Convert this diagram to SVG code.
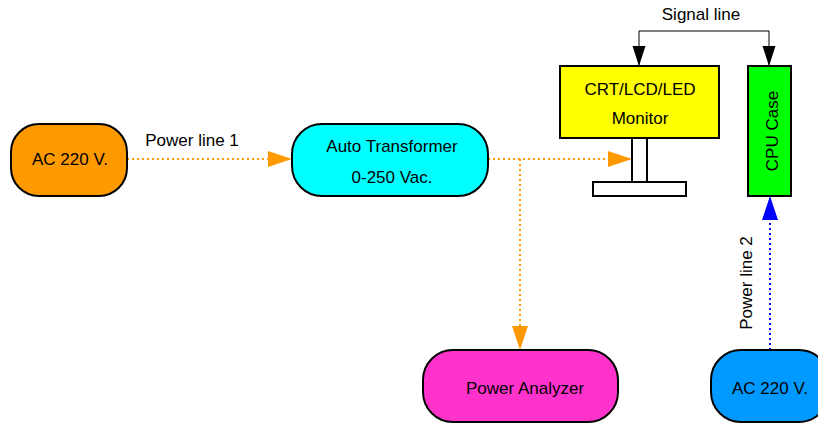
<svg xmlns="http://www.w3.org/2000/svg" width="818" height="426" viewBox="0 0 818 426">
  <style>
    text { font-family: "Liberation Sans", Arial, sans-serif; font-size: 17px; fill: #000; }
    .node { stroke: #000; stroke-width: 2; }
    .mid { text-anchor: middle; }
    .pwr { fill: none; stroke: #ff9900; stroke-width: 2; stroke-dasharray: 2 3; }
    .pwr2 { fill: none; stroke: #0000ff; stroke-width: 2; stroke-dasharray: 2 3; }
    .sig { fill: none; stroke: #000; stroke-width: 1; }
  </style>
  <defs>
    <marker id="arrOrange" markerUnits="userSpaceOnUse" markerWidth="24" markerHeight="16" refX="24" refY="8" orient="auto">
      <path d="M0,0 L24,8 L0,16 Z" fill="#ff9900"/>
    </marker>
    <marker id="arrBlue" markerUnits="userSpaceOnUse" markerWidth="24" markerHeight="16" refX="24" refY="8" orient="auto">
      <path d="M0,0 L24,8 L0,16 Z" fill="#0000ff"/>
    </marker>
    <marker id="arrBlack" markerUnits="userSpaceOnUse" markerWidth="20" markerHeight="14" refX="20" refY="7" orient="auto">
      <path d="M0,0.5 L20,7 L0,13.5 Z" fill="#000"/>
    </marker>
  </defs>

  <!-- connectors -->
  <g id="connectors">
    <path class="pwr" d="M127,159 H292" marker-end="url(#arrOrange)"/>
    <path class="pwr" d="M488,159 H632" marker-end="url(#arrOrange)"/>
    <path class="pwr" d="M520,159 V350" marker-end="url(#arrOrange)"/>
    <path class="pwr2" d="M770,350 V196" marker-end="url(#arrBlue)"/>
    <path class="sig" d="M700,31 H639 V66" marker-end="url(#arrBlack)"/>
    <path class="sig" d="M700,31 H769 V66" marker-end="url(#arrBlack)"/>
    <text x="192" y="146" class="mid">Power line 1</text>
    <text x="701" y="20" class="mid">Signal line</text>
    <text transform="translate(752,283) rotate(-90)" class="mid">Power line 2</text>
  </g>

  <!-- mains supply feeding the transformer -->
  <g id="ac-supply-1">
    <rect class="node" x="11" y="124" width="116" height="72" rx="28" fill="#ff9900"/>
    <text x="70" y="165" class="mid">AC 220 V.</text>
  </g>

  <g id="auto-transformer">
    <rect class="node" x="292" y="124" width="196" height="72" rx="30" fill="#00ffff"/>
    <text x="392" y="152" class="mid">Auto Transformer</text>
    <text x="392" y="183" class="mid">0-250 Vac.</text>
  </g>

  <g id="monitor">
    <rect class="node" x="560" y="66" width="159" height="72" fill="#ffff00"/>
    <rect class="node" x="632" y="138" width="15" height="44" fill="#fff"/>
    <rect class="node" x="593" y="182" width="93" height="14" fill="#fff"/>
    <text x="640" y="95" class="mid">CRT/LCD/LED</text>
    <text x="640" y="124" class="mid">Monitor</text>
  </g>

  <g id="cpu-case">
    <rect class="node" x="748" y="66" width="43" height="130" fill="#00ff00"/>
    <text transform="translate(778,131) rotate(-90)" class="mid">CPU Case</text>
  </g>

  <g id="power-analyzer">
    <rect class="node" x="423" y="350" width="195" height="72" rx="30" fill="#ff33cc"/>
    <text x="525" y="394" class="mid">Power Analyzer</text>
  </g>

  <g id="ac-supply-2">
    <rect class="node" x="711" y="350" width="118" height="72" rx="30" fill="#0099ff"/>
    <text x="770" y="394" class="mid">AC 220 V.</text>
  </g>
</svg>
